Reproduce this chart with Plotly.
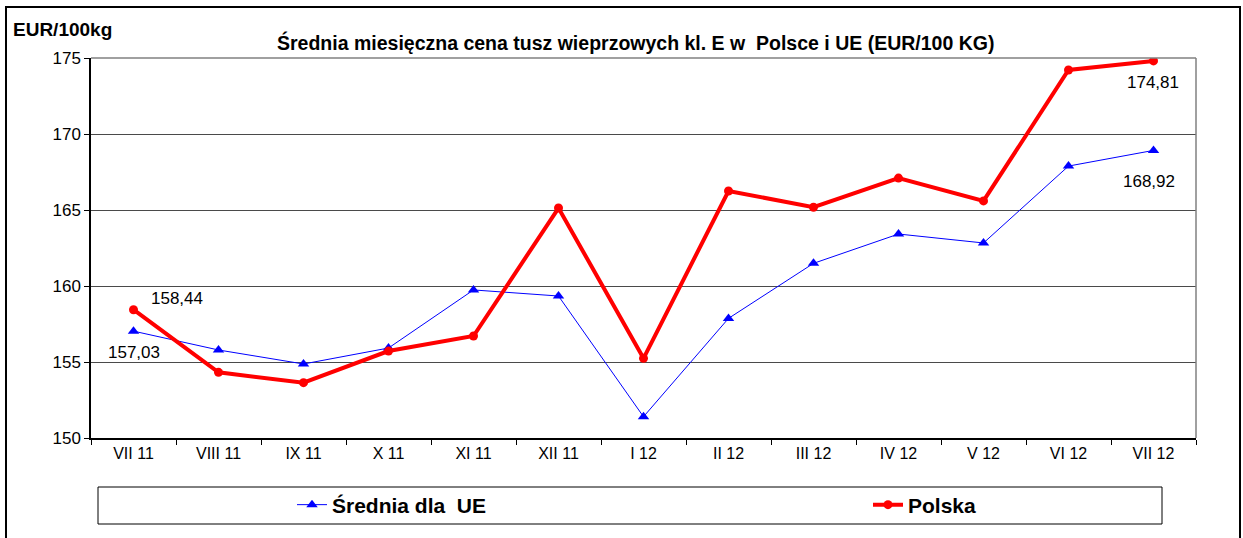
import plotly.graph_objects as go

months = ["VII 11", "VIII 11", "IX 11", "X 11", "XI 11", "XII 11", "I 12",
          "II 12", "III 12", "IV 12", "V 12", "VI 12", "VII 12"]
ue = [157.03, 155.79, 154.87, 155.92, 159.74, 159.34, 151.40,
      157.87, 161.49, 163.42, 162.83, 167.89, 168.92]
polska = [158.44, 154.32, 153.64, 155.72, 156.71, 165.13, 155.24,
          166.25, 165.18, 167.10, 165.60, 174.21, 174.81]
y_ticks = [150, 155, 160, 165, 170, 175]

W, H = 1243, 538
L, R, T, B = 91, 47, 58, 100
pw, ph = W - L - R, H - T - B

def px(x):
    return (x - L) / pw

def py(y):
    return (H - B - y) / ph

FONT = "Arial, Liberation Sans, sans-serif"
fnt = dict(family=FONT, color="black")

fig = go.Figure()
fig.add_trace(go.Scatter(
    x=months, y=ue, name="Średnia dla\u00a0\u00a0UE", mode="lines+markers",
    line=dict(color="#0000FF", width=1),
    marker=dict(symbol="triangle-up", size=10, color="#0000FF"),
    legend="legend",
))
fig.add_trace(go.Scatter(
    x=months, y=polska, name="Polska", mode="lines+markers",
    line=dict(color="#FF0000", width=4),
    marker=dict(symbol="circle", size=9, color="#FF0000"),
    legend="legend2",
))

def fmt(v):
    return f"{v:.2f}".replace(".", ",")

lab = dict(size=17, **fnt)
annotations = [
    dict(x=months[0], y=polska[0], text=fmt(polska[0]), xshift=43, yshift=11,
         showarrow=False, font=lab),
    dict(x=months[0], y=ue[0], text=fmt(ue[0]), xshift=0, yshift=-21,
         showarrow=False, font=lab),
    dict(x=months[-1], y=polska[-1], text=fmt(polska[-1]), xshift=-1, yshift=-22,
         showarrow=False, font=lab),
    dict(x=months[-1], y=ue[-1], text=fmt(ue[-1]), xshift=-5, yshift=-31,
         showarrow=False, font=lab),
    dict(xref="paper", yref="paper", x=px(11), y=py(30), xanchor="left",
         yanchor="middle", text="<b>EUR/100kg</b>", showarrow=False,
         font=dict(size=19, **fnt)),
    dict(xref="paper", yref="paper", x=px(635), y=py(42), xanchor="center",
         yanchor="middle",
         text="<b>Średnia miesięczna cena tusz wieprzowych kl. E w\u00a0\u00a0Polsce i UE (EUR/100 KG)</b>",
         showarrow=False, font=dict(size=19.5, **fnt)),
]

shapes = [
    # outer frame
    dict(type="rect", xref="paper", yref="paper", x0=px(6), x1=px(1240),
         y0=py(560), y1=py(7), line=dict(color="black", width=2),
         fillcolor="rgba(0,0,0,0)", layer="below"),
    # legend box
    dict(type="rect", xref="paper", yref="paper", x0=px(98), x1=px(1162),
         y0=py(524), y1=py(487), line=dict(color="black", width=1),
         fillcolor="white", layer="below"),
    # top and right plot border
    dict(type="line", xref="paper", yref="paper", x0=0, x1=1, y0=1, y1=1,
         line=dict(color="#808080", width=1.5)),
    dict(type="line", xref="paper", yref="paper", x0=1, x1=1, y0=0, y1=1,
         line=dict(color="#808080", width=1.5)),
]

leg_font = dict(size=21, family=FONT, color="black", weight="bold")
leg_common = dict(orientation="h", xref="container", yref="container",
                  xanchor="left", yanchor="middle", y=1 - 505 / H,
                  bgcolor="rgba(0,0,0,0)", borderwidth=0, font=leg_font)

fig.update_layout(
    width=W, height=H,
    margin=dict(l=L, r=R, t=T, b=B, autoexpand=False),
    paper_bgcolor="white", plot_bgcolor="white",
    showlegend=True,
    legend=dict(x=292 / W, **leg_common),
    legend2=dict(x=868 / W, **leg_common),
    annotations=annotations,
    shapes=shapes,
    xaxis=dict(showline=True, linecolor="black", linewidth=1.5,
               ticks="outside", tickson="boundaries", ticklen=5,
               tickcolor="black", showgrid=False, range=[-0.5, 12.5],
               tickfont=dict(size=16, **fnt), fixedrange=True),
    yaxis=dict(range=[150, 175], tickvals=y_ticks, showline=True,
               linecolor="black", linewidth=1.5, ticks="outside", ticklen=5,
               tickcolor="black", showgrid=True, gridcolor="#4a4a4a",
               gridwidth=1, tickfont=dict(size=17, **fnt), zeroline=False,
               fixedrange=True),
)

fig.write_html("out.html", config={"displayModeBar": False},
               post_script="document.body.style.margin='0px';document.body.style.padding='0px';")
